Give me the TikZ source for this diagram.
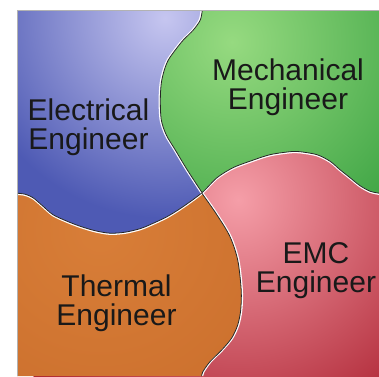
\documentclass[tikz,border=0pt]{standalone}
\usepackage{fontspec}
\setmainfont{Liberation Sans}

\definecolor{elecblue}{RGB}{78,90,180}
\definecolor{eleclight}{RGB}{198,198,240}
\definecolor{mechgreen}{RGB}{38,150,52}
\definecolor{mechlight}{RGB}{150,218,128}
\definecolor{emcred}{RGB}{170,30,45}
\definecolor{emclight}{RGB}{245,158,168}
\definecolor{thermorange}{RGB}{192,98,35}
\definecolor{thermlight}{RGB}{216,126,56}

\begin{document}
\begin{tikzpicture}[
    x=1pt, y=-1pt,
    engtext/.style={
        align=center,
        inner sep=0pt,
        text=black!90,
        font=\fontsize{30}{29}\selectfont
    },
    seamlight/.style={white, line width=1.6pt},
    seamdark/.style={black!85, line width=0.8pt}
]

\useasboundingbox (0,0) rectangle (379,376);
\clip (17,10) rectangle (379,376);

% EMC piece (whole square)
\fill[emcred] (17,10) rectangle (379,376);
\shade[inner color=emclight, outer color=emcred] (238,200) circle (270pt);

% Thermal piece (left half)
\begin{scope}
\clip plot[smooth] coordinates {(202,10) (200,20) (193,30) (183,40) (175,50) (168,60) (164,70) (161,83) (160,100) (161,120) (166,135) (175,150) (187,170) (202,193) (216,213) (230,236) (238,260) (241.5,290) (241,310) (238,325) (232,338) (222,350) (210,362) (203,372) (202,376)}
    -- (17,376) -- (17,10) -- cycle;
\fill[thermorange] (17,10) rectangle (250,376);
\shade[inner color=thermlight, outer color=thermorange] (100,230) circle (400pt);
\end{scope}

% Mechanical and Electrical pieces (top half)
\begin{scope}
\clip plot[smooth] coordinates {(17,193.5) (25,194.5) (33,198) (43,206.5) (53,215) (67,221.5) (80,226.5) (95,231) (110,233.5) (125,232.5) (140,229) (150,225) (167,217) (183,207) (202,193) (217,178) (233,168) (250,161.5) (270,155) (290,152) (300,152) (317,155) (330,161.5) (340,170) (350,178) (360,186) (370,191.5) (379,193.5)}
    -- (379,10) -- (17,10) -- cycle;
\fill[mechgreen] (17,10) rectangle (379,240);
\shade[inner color=mechlight, outer color=mechgreen] (232,42) circle (280pt);
\clip plot[smooth] coordinates {(202,10) (200,20) (193,30) (183,40) (175,50) (168,60) (164,70) (161,83) (160,100) (161,120) (166,135) (175,150) (187,170) (202,193) (216,213) (230,236) (238,260) (241.5,290) (241,310) (238,325) (232,338) (222,350) (210,362) (203,372) (202,376)}
    -- (17,376) -- (17,10) -- cycle;
\fill[elecblue] (17,10) rectangle (250,240);
\shade[inner color=eleclight, outer color=elecblue] (165,18) circle (200pt);
\end{scope}

% Seams
\foreach \dy/\seam in {-0.6/seamlight, 0.3/seamdark}
    \draw[\seam, yshift=\dy pt] plot[smooth] coordinates {(17,193.5) (25,194.5) (33,198) (43,206.5) (53,215) (67,221.5) (80,226.5) (95,231) (110,233.5) (125,232.5) (140,229) (150,225) (167,217) (183,207) (202,193) (217,178) (233,168) (250,161.5) (270,155) (290,152) (300,152) (317,155) (330,161.5) (340,170) (350,178) (360,186) (370,191.5) (379,193.5)};
\foreach \dx/\seam in {-0.6/seamlight, 0.3/seamdark}
    \draw[\seam, xshift=\dx pt] plot[smooth] coordinates {(202,10) (200,20) (193,30) (183,40) (175,50) (168,60) (164,70) (161,83) (160,100) (161,120) (166,135) (175,150) (187,170) (202,193)};
\foreach \dx/\seam in {0.6/seamlight, -0.3/seamdark}
    \draw[\seam, xshift=\dx pt] plot[smooth] coordinates {(202,193) (216,213) (230,236) (238,260) (241.5,290) (241,310) (238,325) (232,338) (222,350) (210,362) (203,372) (202,376)};

% Frame (top and left)
\draw[gray!60, line width=0.8pt] (17,376) -- (17,10) -- (379,10);

% Labels
\node[engtext] (elec) at (88.5,127.4) {Electrical\\Engineer};
\node[engtext] (mech) at (288,87.4) {Mechanical\\Engineer};
\node[engtext] (therm) at (116.5,303.4) {Thermal\\Engineer};
\node[engtext] (emc) at (316,270.7) {EMC\\Engineer};

\end{tikzpicture}
\end{document}
